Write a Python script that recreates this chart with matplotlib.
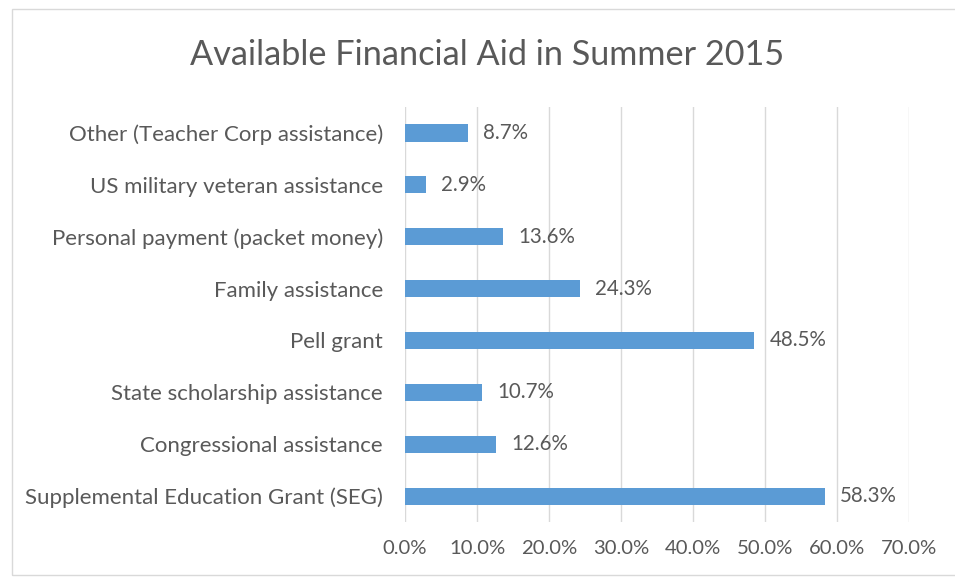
import matplotlib.pyplot as plt
from matplotlib.patches import Rectangle
from matplotlib.ticker import FuncFormatter

plt.rcParams['font.family'] = ['Lato', 'DejaVu Sans']

# listed top to bottom as in the chart
categories = [
    "Other (Teacher Corp assistance)",
    "US military veteran assistance",
    "Personal payment (packet money)",
    "Family assistance",
    "Pell grant",
    "State scholarship assistance",
    "Congressional assistance",
    "Supplemental Education Grant (SEG)",
]
percent = [8.7, 2.9, 13.6, 24.3, 48.5, 10.7, 12.6, 58.3]

text_col = "#595959"
bar_col = "#5B9BD5"

fig = plt.figure(figsize=(9.55, 5.8), dpi=100)
ax = fig.add_axes([0.4241, 0.1, 0.528, 0.7155])

# chart border
fig.patches.append(Rectangle((12 / 955, 5 / 580), 1.0, 566 / 580,
                             transform=fig.transFigure, fill=False,
                             edgecolor="#D9D9D9", linewidth=1))

ypos = list(range(len(categories)))[::-1]
ax.barh(ypos, percent, height=0.33, color=bar_col, zorder=3)
for y, v in zip(ypos, percent):
    ax.text(v + 2.1, y, f"{v:.1f}%", va="center", ha="left",
            fontsize=14.8, color=text_col)

ax.set_yticks(ypos)
ax.set_yticklabels(categories, fontsize=16, color=text_col)
ax.set_ylim(-0.5, len(categories) - 0.5)
ax.set_xlim(0, 70)
ax.set_xticks(range(0, 71, 10))
ax.xaxis.set_major_formatter(FuncFormatter(lambda x, p: f"{x:.1f}%"))
ax.tick_params(axis="x", labelsize=14.6, colors=text_col, length=0, pad=13)
ax.tick_params(axis="y", length=0, pad=16)
ax.grid(axis="x", color="#D9D9D9", linewidth=1, zorder=0)
for s in ax.spines.values():
    s.set_visible(False)

fig.text(487 / 955, 1 - 55 / 580, "Available Financial Aid in Summer 2015",
         ha="center", va="center", fontsize=24.7, color=text_col)

fig.savefig("out.png", dpi=100)
